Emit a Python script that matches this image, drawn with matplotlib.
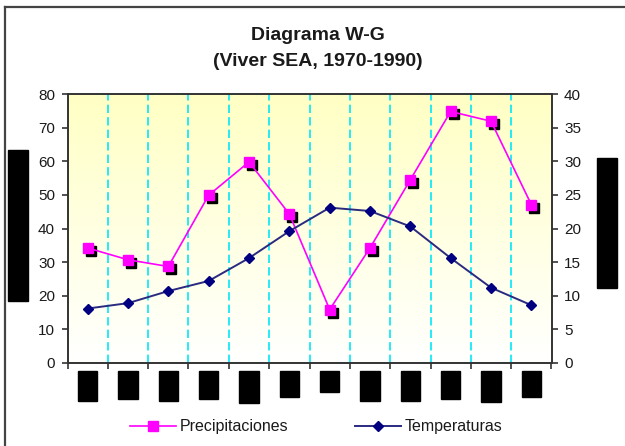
import matplotlib
matplotlib.use('Agg')
import matplotlib.pyplot as plt
import matplotlib.transforms as mtransforms
from matplotlib.lines import Line2D
import numpy as np

meses = ['Ene', 'Feb', 'Mar', 'Abr', 'May', 'Jun', 'Jul', 'Ago', 'Sep', 'Oct', 'Nov', 'Dic']
precipitaciones = [34.2, 30.7, 28.7, 49.9, 59.8, 44.3, 15.9, 34.2, 54.5, 74.8, 71.9, 47.1]
temperaturas = [8.1, 8.9, 10.7, 12.2, 15.6, 19.6, 23.1, 22.6, 20.3, 15.6, 11.2, 8.6]

W, H = 625, 446
plt.rcParams['font.family'] = ['Liberation Sans', 'DejaVu Sans']

fig = plt.figure(figsize=(W / 100, H / 100), dpi=100)
ax = fig.add_axes([67.5 / W, 1 - 363 / H, 484 / W, 269 / H])
ax2 = ax.twinx()

x = np.arange(len(meses))

# fondo degradado amarillo -> blanco
grad = np.linspace(1, 0, 256).reshape(-1, 1)
cmap = matplotlib.colors.LinearSegmentedColormap.from_list('fondo', ['#ffffff', '#ffffc4'])
ax.imshow(grad, extent=[0, 1, 0, 1], transform=ax.transAxes, aspect='auto',
          cmap=cmap, zorder=0, interpolation='bilinear')

# lineas de separacion (cian discontinuas)
for b in np.arange(0.5, len(meses) - 0.5):
    ax.axvline(b, color='#00e8f8', lw=1.2, ls=(0, (5, 2.5)), zorder=1)

# precipitaciones con sombra
sombra = mtransforms.offset_copy(ax.transData, fig=fig, x=3, y=-3, units='dots')
ax.plot(x, precipitaciones, 's', color='black', ms=7.8, transform=sombra, zorder=2)
ax.plot(x, precipitaciones, '-', color='#ff00ff', lw=1.2, zorder=3)
ax.plot(x, precipitaciones, 's', color='#ff00ff', mec='#ff00ff', ms=7.8, zorder=4)

# temperaturas
ax2.plot(x, temperaturas, '-', color='#2a2a80', lw=1.4, zorder=3)
ax2.plot(x, temperaturas, 'D', color='#000080', ms=5.6, zorder=4)

ax.set_xlim(-0.5, len(meses) - 0.5)
ax.set_ylim(0, 80)
ax2.set_ylim(0, 40)
ax.set_yticks(np.arange(0, 81, 10))
ax2.set_yticks(np.arange(0, 41, 5))

ax.set_xticks(np.arange(-0.5, len(meses)))
ax.set_xticklabels([])
ax.set_xticks(x, minor=True)
ax.set_xticklabels(meses, minor=True, rotation=90, va='top', fontsize=9,
                   family='DejaVu Sans', color='black',
                   bbox=dict(facecolor='black', edgecolor='black', pad=2.3))
ax.tick_params(axis='x', which='minor', length=0, pad=8)
ax.tick_params(axis='x', which='major', length=4, width=1.2, color='#333333', direction='out')

for a in (ax, ax2):
    a.tick_params(axis='y', length=4, width=1.2, color='#333333', labelsize=11,
                  labelcolor='#1a1a1a', pad=5)
    for s in a.spines.values():
        s.set_color('#333333')
        s.set_linewidth(1.2)

# titulo
fig.text(318 / W, 1 - 35.5 / H, 'Diagrama W-G', ha='center', va='center',
         fontsize=14, fontweight='bold', color='#1a1a1a')
fig.text(318 / W, 1 - 62 / H, '(Viver SEA, 1970-1990)', ha='center', va='center',
         fontsize=14, fontweight='bold', color='#1a1a1a')

# etiquetas de los ejes (tapadas en negro)
fig.text(18 / W, 1 - 225.5 / H, 'Precipitaciones (mm)', rotation=90, ha='center', va='center',
         fontsize=9.8, family='DejaVu Sans', color='black',
         bbox=dict(facecolor='black', edgecolor='black', pad=2))
fig.text(607 / W, 1 - 223 / H, 'Temperaturas (ºC)', rotation=90, ha='center', va='center',
         fontsize=9.8, family='DejaVu Sans', color='black',
         bbox=dict(facecolor='black', edgecolor='black', pad=2))

# leyenda
handles = [
    Line2D([], [], color='#ff00ff', lw=1.2, marker='s', ms=7.8, mec='#ff00ff'),
    Line2D([], [], color='#2a2a80', lw=1.4, marker='D', ms=5.6, mfc='#000080', mec='#000080'),
]
fig.legend(handles, ['Precipitaciones', 'Temperaturas'], loc='center',
           bbox_to_anchor=(316 / W, 1 - 427 / H), ncol=2, frameon=False,
           fontsize=11.5, handlelength=2.9, handletextpad=0.2, columnspacing=4.2,
           labelcolor='#1a1a1a')

# marco del grafico
fig.add_artist(Line2D([4.5 / W, 4.5 / W], [0, 1 - 7 / H], color='#444444', lw=1.6,
                      transform=fig.transFigure))
fig.add_artist(Line2D([4.5 / W, 1], [1 - 7 / H, 1 - 7 / H], color='#444444', lw=1.6,
                      transform=fig.transFigure))

fig.savefig('out.png', dpi=100)
